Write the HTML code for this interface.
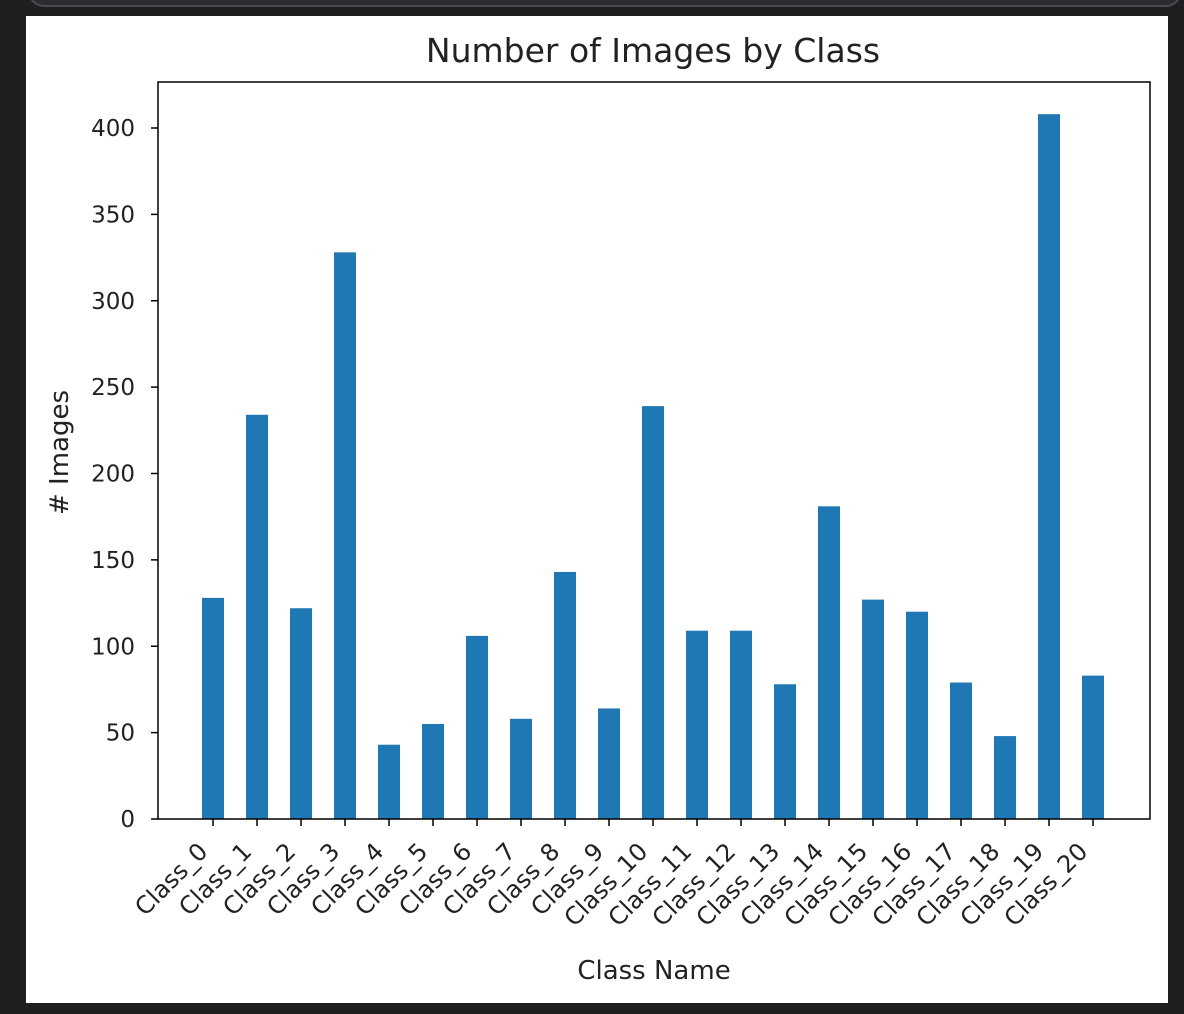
<!DOCTYPE html>
<html><head><meta charset="utf-8"><style>
html,body{margin:0;padding:0;background:#1f1f22;width:1184px;height:1014px;overflow:hidden}
svg{display:block;font-family:"DejaVu Sans","Liberation Sans",sans-serif}
</style></head><body>
<svg width="1184" height="1014">
<rect x="0" y="0" width="1184" height="1014" fill="#1f1f22"/>
<rect x="30" y="-20" width="1150" height="26" rx="14" fill="#2b2c30" stroke="#4a4b50" stroke-width="2"/>
<rect x="26" y="16" width="1142" height="987" fill="#ffffff"/>
<g id="plot"></g>
</svg>
<script>
const categories=["Class_0","Class_1","Class_2","Class_3","Class_4","Class_5","Class_6","Class_7","Class_8","Class_9","Class_10","Class_11","Class_12","Class_13","Class_14","Class_15","Class_16","Class_17","Class_18","Class_19","Class_20"];
const counts=[128,234,122,328,43,55,106,58,143,64,239,109,109,78,181,127,120,79,48,408,83];
const yTicks=[0,50,100,150,200,250,300,350,400];
const NS="http://www.w3.org/2000/svg";
const g=document.getElementById('plot');
const L=158,R=1150,T=82,B=819;
function y(v){return B-v*(B-128)/400;}
function x(i){return 213+i*44;}
function mk(t,a,p){const e=document.createElementNS(NS,t);for(const k in a)e.setAttribute(k,a[k]);(p||g).appendChild(e);return e;}
categories.forEach((c,i)=>{
  const b=mk('rect',{x:x(i)-11,y:y(counts[i]),width:22,height:B-y(counts[i]),fill:'#1f77b4'});
  
  
  const tk=mk('line',{x1:x(i),x2:x(i),y1:B,y2:B+7,stroke:'#000','stroke-width':1.5});
  
  
  const t=mk('text',{x:0,y:0,'font-size':24,'text-anchor':'end',fill:'#222',transform:`translate(${x(i)-4},${B+34}) rotate(-45)`});
  t.textContent=c;
  
  
});
yTicks.forEach(v=>{
  const tk=mk('line',{x1:L-7,x2:L,y1:y(v),y2:y(v),stroke:'#000','stroke-width':1.5});
  
  
  const t=mk('text',{x:L-23,y:y(v)+8,'font-size':23,'text-anchor':'end',fill:'#222'});
  t.textContent=v;
  
  
});
const ax=mk('rect',{x:L,y:T,width:R-L,height:B-T,fill:'none',stroke:'#000','stroke-width':1.5});


const ti=mk('text',{x:(L+R)/2-1,y:62,'font-size':33,'text-anchor':'middle',fill:'#222'});
ti.textContent='Number of Images by Class';


const xl=mk('text',{x:(L+R)/2,y:979,'font-size':26,'text-anchor':'middle',fill:'#222'});
xl.textContent='Class Name';


const yl=mk('text',{x:0,y:0,'font-size':26,'text-anchor':'middle',fill:'#222',transform:`translate(68,${(T+B)/2+2}) rotate(-90)`});
yl.textContent='# Images';


</script>
</body></html>
